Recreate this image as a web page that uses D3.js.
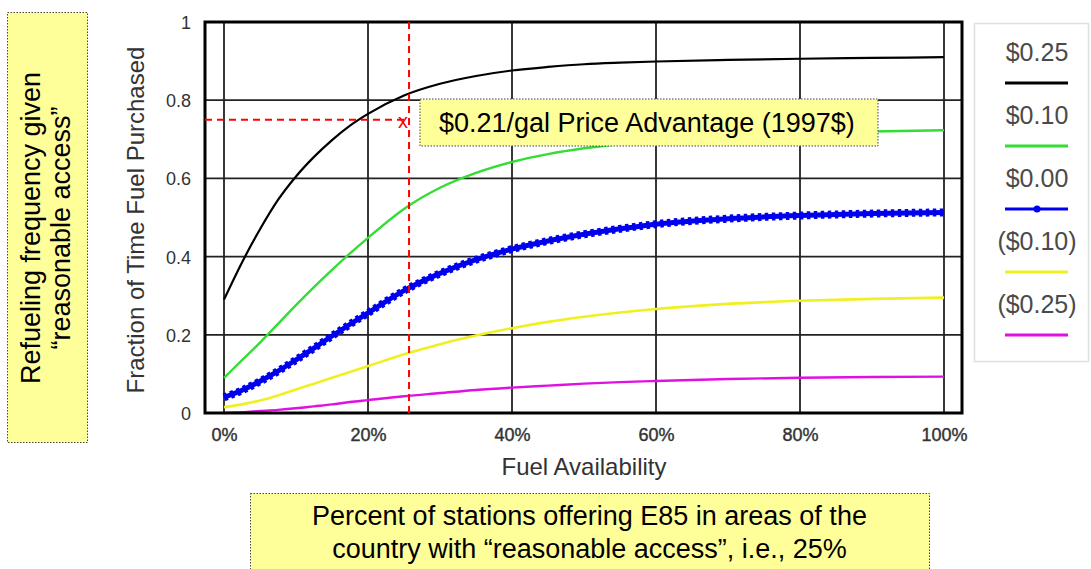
<!DOCTYPE html>
<html><head><meta charset="utf-8">
<script src="https://cdn.jsdelivr.net/npm/d3@7"></script>
<style>
html,body{margin:0;padding:0;background:#fff;}
svg{display:block;font-family:"Liberation Sans",Arial,sans-serif;}
</style></head>
<body>
<svg id="chart" width="1091" height="569"></svg>
<script>
// ---- data ----
const availability = [0,2.5,5,7.5,10,12.5,15,17.5,20,25,30,35,40,45,50,55,60,70,80,90,100];
const seriesNames = ["$0.25","$0.10","$0.00","($0.10)","($0.25)"];
const adv025  = [0.29,0.385,0.47,0.545,0.605,0.655,0.698,0.735,0.765,0.812,0.842,0.862,0.876,0.885,0.892,0.896,0.899,0.903,0.906,0.908,0.91];
const adv010  = [0.09,0.135,0.18,0.228,0.276,0.322,0.366,0.408,0.448,0.522,0.576,0.614,0.642,0.662,0.677,0.688,0.697,0.709,0.716,0.72,0.723];
const adv000  = [0.04,0.058,0.081,0.107,0.136,0.166,0.197,0.227,0.256,0.313,0.357,0.392,0.419,0.44,0.457,0.471,0.483,0.497,0.505,0.51,0.513];
const dis010  = [0.015,0.022,0.032,0.045,0.06,0.075,0.09,0.105,0.12,0.15,0.176,0.198,0.217,0.233,0.246,0.257,0.266,0.279,0.287,0.292,0.295];
const dis025  = [0.0,0.002,0.005,0.008,0.012,0.017,0.022,0.028,0.033,0.043,0.051,0.059,0.065,0.07,0.075,0.079,0.082,0.087,0.09,0.092,0.093];
const xTicks = [0,20,40,60,80,100];
const yTicks = [0,0.2,0.4,0.6,0.8,1];
const refX = 25.7, refY = 0.75;
const annotationText = "$0.21/gal Price Advantage (1997$)";
const sideText = ["Refueling frequency given", "\u201creasonable access\u201d"];
const bottomText = ["Percent of stations offering E85 in areas of the", "country with \u201creasonable access\u201d, i.e., 25%"];

const styles = [
  {color:"#000000", width:2.2},
  {color:"#33dd33", width:2.4},
  {color:"#0000ee", width:5, marker:true},
  {color:"#f0f020", width:2.6},
  {color:"#e010e0", width:2.4}
];
const allSeries = [adv025, adv010, adv000, dis010, dis025];

const svg = d3.select("#chart");
const x = d3.scaleLinear().domain([0,100]).range([224,944]);
const y = d3.scaleLinear().domain([0,1]).range([413,22]);
const frame = {l:205, r:962, t:22, b:413};

// grid
const g = svg.append("g");
g.selectAll("line.vg").data(xTicks).join("line")
  .attr("x1", d=>x(d)).attr("x2", d=>x(d)).attr("y1", frame.t).attr("y2", frame.b)
  .attr("stroke","#222").attr("stroke-width",1.8);
g.selectAll("line.hg").data(yTicks.filter(d=>d>0&&d<1)).join("line")
  .attr("x1", frame.l).attr("x2", frame.r).attr("y1", d=>y(d)).attr("y2", d=>y(d))
  .attr("stroke","#222").attr("stroke-width",1.8);

// series
const line = d3.line().x((d,i)=>x(availability[i])).y(d=>y(d)).curve(d3.curveMonotoneX);
allSeries.slice().reverse().forEach((s,ri)=>{
  const st = styles[allSeries.length-1-ri];
  svg.append("path").datum(s).attr("d", line).attr("fill","none")
    .attr("stroke", st.color).attr("stroke-width", st.width).attr("stroke-linejoin","round");
  if (st.marker) {
    // dense marker look along the line
    svg.append("path").datum(s).attr("d", line).attr("fill","none")
      .attr("stroke", st.color).attr("stroke-width", 8).attr("stroke-dasharray","3.5,3.5");
  }
});

// frame
svg.append("rect").attr("x",frame.l).attr("y",frame.t).attr("width",frame.r-frame.l).attr("height",frame.b-frame.t)
  .attr("fill","none").attr("stroke","#000").attr("stroke-width",3);

// axes labels
const xAxis = d3.axisBottom(x).tickValues(xTicks).tickFormat(d=>d+"%").tickSize(0).tickPadding(0);
const xa = svg.append("g").attr("transform",`translate(0,${frame.b})`).call(xAxis);
xa.select(".domain").remove();
xa.selectAll("text").attr("y",28).attr("dy",0).attr("font-size",18).attr("fill","#333")
  .attr("font-family","Liberation Sans, Arial, sans-serif").attr("stroke","#333").attr("stroke-width",0.4);

const yAxis = d3.axisLeft(y).tickValues(yTicks).tickFormat(d=>d===0?"0":d===1?"1":d3.format(".1f")(d)).tickSize(0).tickPadding(0);
const ya = svg.append("g").attr("transform",`translate(191,0)`).call(yAxis);
ya.select(".domain").remove();
ya.selectAll("text").attr("x",0).attr("dy","0.36em").attr("font-size",18).attr("fill","#333")
  .attr("font-family","Liberation Sans, Arial, sans-serif");

svg.append("text").attr("x",584).attr("y",475).attr("text-anchor","middle")
  .attr("font-size",24).attr("fill","#333").text("Fuel Availability");
svg.append("text").attr("transform","translate(144,220) rotate(-90)").attr("text-anchor","middle")
  .attr("font-size",24).attr("fill","#333").text("Fraction of Time Fuel Purchased");

// reference lines
svg.append("line").attr("x1",x(refX)).attr("x2",x(refX)).attr("y1",frame.t).attr("y2",frame.b)
  .attr("stroke","#ff0000").attr("stroke-width",2).attr("stroke-dasharray","7,5");
svg.append("line").attr("x1",frame.l).attr("x2",x(refX)).attr("y1",y(refY)).attr("y2",y(refY))
  .attr("stroke","#ff0000").attr("stroke-width",2).attr("stroke-dasharray","7,5");
svg.append("text").attr("x",x(refX)-6).attr("y",y(refY)+8).attr("text-anchor","middle")
  .attr("font-size",20).attr("fill","#ff0000").text("x");

// annotation box
svg.append("rect").attr("x",420).attr("y",99).attr("width",458).attr("height",47)
  .attr("fill","#ffff99").attr("stroke","#444").attr("stroke-width",1).attr("stroke-dasharray","1.5,1.5");
svg.append("text").attr("x",439).attr("y",132).attr("font-size",27).attr("fill","#000").text(annotationText);

// side box
svg.append("rect").attr("x",7.5).attr("y",12.5).attr("width",80).attr("height",430)
  .attr("fill","#ffff99").attr("stroke","#444").attr("stroke-width",1).attr("stroke-dasharray","1.5,1.5");
sideText.forEach((t,i)=>{
  svg.append("text").attr("transform",`translate(${40+i*30},228) rotate(-90)`).attr("text-anchor","middle")
    .attr("font-size",27).attr("fill","#000").text(t);
});

// bottom box
svg.append("rect").attr("x",250.5).attr("y",493.5).attr("width",679).attr("height",100)
  .attr("fill","#ffff99").attr("stroke","#444").attr("stroke-width",1).attr("stroke-dasharray","1.5,1.5");
bottomText.forEach((t,i)=>{
  svg.append("text").attr("x",589.5).attr("y",525+i*33).attr("text-anchor","middle")
    .attr("font-size",27).attr("fill","#000").text(t);
});

// legend
svg.append("rect").attr("x",974.5).attr("y",23.5).attr("width",114).attr("height",338)
  .attr("fill","#fff").attr("stroke","#e0e0e0").attr("stroke-width",1.5);
const lg = svg.append("g");
seriesNames.forEach((n,i)=>{
  const yy = 61 + i*63;
  lg.append("text").attr("x",1037).attr("y",yy).attr("text-anchor","middle")
    .attr("font-size",25).attr("fill","#4a4a4a").text(n);
  lg.append("line").attr("x1",1005).attr("x2",1068).attr("y1",yy+22).attr("y2",yy+22)
    .attr("stroke",styles[i].color).attr("stroke-width", i===0?3.2:3);
  if (styles[i].marker) {
    lg.append("circle").attr("cx",1037).attr("cy",yy+22).attr("r",3.5).attr("fill",styles[i].color);
  }
});
</script>
</body></html>
